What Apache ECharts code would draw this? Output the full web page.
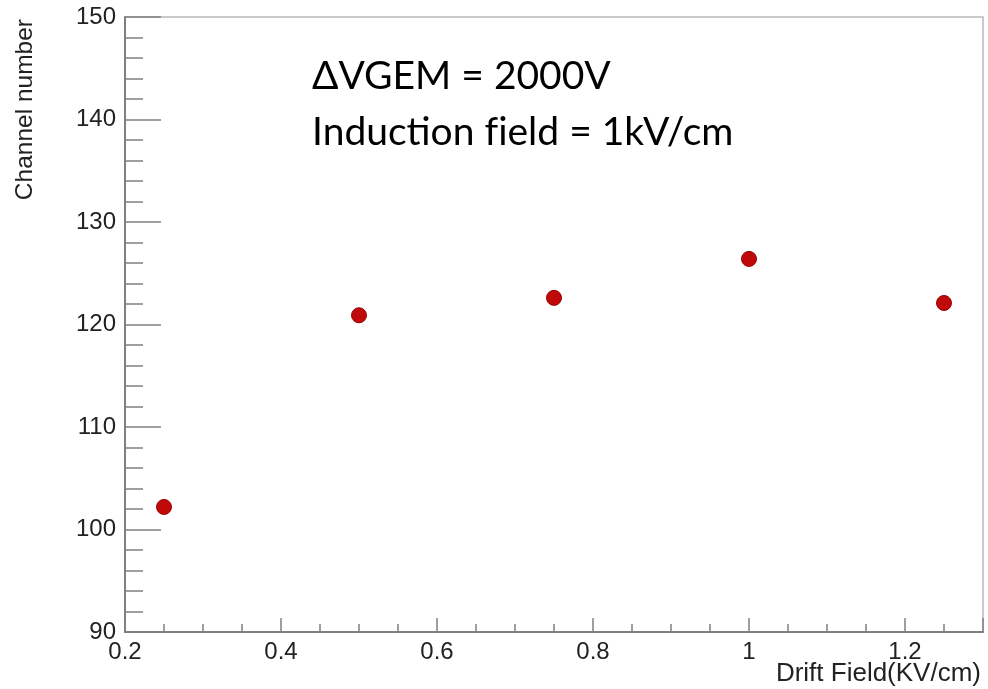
<!DOCTYPE html>
<html>
<head>
<meta charset="utf-8">
<script src="https://cdn.jsdelivr.net/npm/echarts@6/dist/echarts.min.js"></script>
<style>html,body{margin:0;padding:0;background:#fff}#chart{width:988px;height:689px}</style>
</head>
<body>
<div id="chart"></div>
<script>
const driftField = [0.25, 0.5, 0.75, 1.0, 1.25];
const channelNumber = [102.2, 120.9, 122.6, 126.4, 122.1];
const xTitle = 'Drift Field(KV/cm)';
const yTitle = 'Channel number';
const noteLines = ['ΔVGEM = 2000V', 'Induction f\u200Cield = 1kV/cm'];

const chart = echarts.init(document.getElementById('chart'));
const axisColor = '#808080';
const labelFont = '"Liberation Sans", Arial, sans-serif';
chart.setOption({
  animation: false,
  backgroundColor: '#fff',
  grid: { left: 125, right: 5, top: 17, bottom: 57, show: true, borderColor: '#b8b8b8', borderWidth: 1.5, backgroundColor: 'transparent' },
  xAxis: {
    type: 'value', min: 0.2, max: 1.3, interval: 0.2,
    axisLine: { show: true, lineStyle: { color: axisColor, width: 2 } },
    axisTick: { show: true, inside: true, length: 14, lineStyle: { color: axisColor, width: 1.5 } },
    minorTick: { show: true, splitNumber: 4, length: 8, lineStyle: { color: axisColor, width: 1.5 } },
    splitLine: { show: false },
    axisLabel: { showMaxLabel: false, color: '#222', fontSize: 24, fontFamily: labelFont, margin: 8 }
  },
  yAxis: {
    type: 'value', min: 90, max: 150, interval: 10,
    axisLine: { show: true, lineStyle: { color: axisColor, width: 2 } },
    axisTick: { show: true, inside: true, length: 36, lineStyle: { color: axisColor, width: 1.5 } },
    minorTick: { show: true, splitNumber: 5, length: 18, lineStyle: { color: axisColor, width: 1.5 } },
    splitLine: { show: false },
    axisLabel: { color: '#222', fontSize: 24, fontFamily: labelFont, margin: 9 }
  },
  series: [{
    type: 'scatter',
    data: driftField.map((x, i) => [x, channelNumber[i]]),
    symbol: 'circle', symbolSize: 15,
    itemStyle: { color: '#c00a0a', borderColor: '#9a0000', borderWidth: 1, opacity: 1 }
  }],
  graphic: [
    { type: 'text', x: 981, y: 687, style: { text: xTitle, align: 'right', verticalAlign: 'bottom', fontSize: 26, fontFamily: labelFont, fill: '#222' } },
    { type: 'text', x: 25, y: 19, rotation: Math.PI / 2, style: { text: yTitle, align: 'right', verticalAlign: 'middle', fontSize: 24.5, fontFamily: labelFont, fill: '#222' } },
    { type: 'text', x: 312, y: 76, style: { text: noteLines[0], align: 'left', verticalAlign: 'middle', fontSize: 39, fontFamily: 'Lato, "Open Sans", sans-serif', fill: '#000' } },
    { type: 'text', x: 312, y: 132, style: { text: noteLines[1], align: 'left', verticalAlign: 'middle', fontSize: 39, fontFamily: 'Lato, "Open Sans", sans-serif', fill: '#000' } }
  ]
});
</script>
</body>
</html>
